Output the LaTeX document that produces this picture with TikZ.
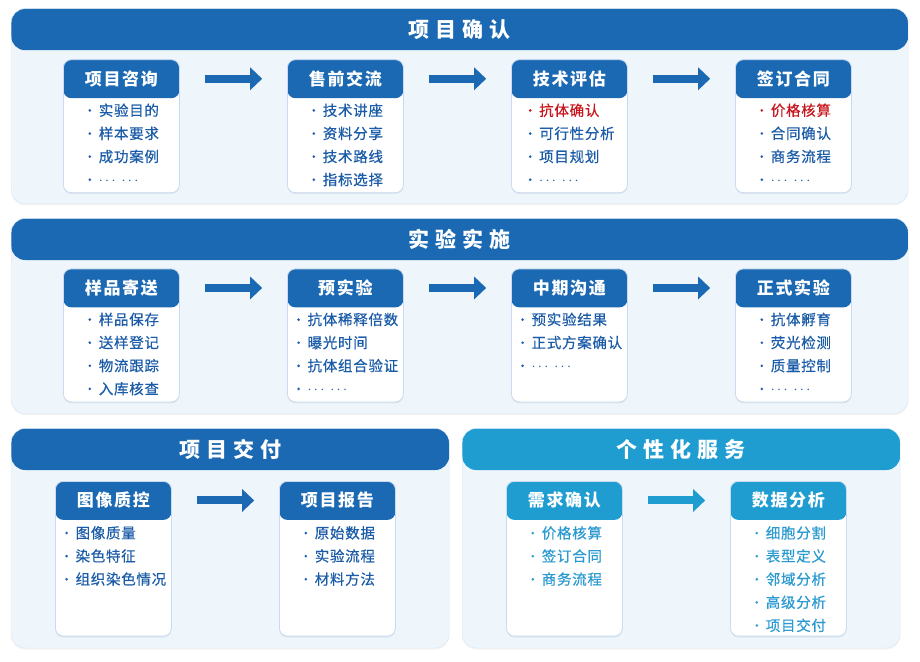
\documentclass[tikz,border=0pt]{standalone}
\usepackage{fontspec}
\setmainfont{Noto Sans CJK SC}
\newfontfamily\titlefont[LetterSpace=28]{Noto Sans CJK SC}
\newfontfamily\cardfont[LetterSpace=10]{Noto Sans CJK SC}
\newfontfamily\itemfont[LetterSpace=5,FakeBold=0.5]{Noto Sans CJK SC}
\usetikzlibrary{arrows.meta,shadows}

\definecolor{hdblue}{HTML}{1B69B2}
\definecolor{skyblue}{HTML}{1F9DD1}
\definecolor{panelbg}{HTML}{EEF6FC}
\definecolor{panelline}{HTML}{DCE8F4}
\definecolor{cardline}{HTML}{C9DBEF}
\definecolor{txtblue}{HTML}{1B5CA8}
\definecolor{txtred}{HTML}{C8161E}
\definecolor{txtsky}{HTML}{2A9AD0}

\newcommand{\bul}{\raisebox{0.8pt}{\fontsize{12}{12}\selectfont •}\hspace{3pt}}
\newcommand{\etcline}{\bul\raisebox{0.6pt}{$\cdots$\hspace{6pt}$\cdots$}}

\tikzset{
  panel/.style={fill=panelbg, draw=panelline, rounded corners=14pt,
    minimum width=897pt, minimum height=195pt, anchor=north west, inner sep=0pt,
    drop shadow={shadow xshift=0pt, shadow yshift=-1.5pt, opacity=0.10},
    path picture={\fill[#1] (path picture bounding box.north west)
      rectangle ([yshift=-41.5pt]path picture bounding box.north east);}},
  panel/.default=hdblue,
  paneltitle/.style={anchor=north, minimum height=41.5pt, inner sep=0pt, text=white,
    font=\titlefont\bfseries\fontsize{21}{21}\selectfont},
  card/.style={fill=white, draw=cardline, line width=0.8pt, rounded corners=8pt,
    minimum width=116pt, minimum height=133pt, anchor=north west, inner sep=0pt,
    drop shadow={shadow xshift=0pt, shadow yshift=-1.5pt, opacity=0.12},
    path picture={\fill[#1] (path picture bounding box.north west)
      rectangle ([yshift=-38.5pt]path picture bounding box.north east);}},
  card/.default=hdblue,
  cardtitle/.style={anchor=north, minimum width=116pt, minimum height=38.5pt, inner sep=0pt,
    text=white, font=\cardfont\bfseries\fontsize{17}{17}\selectfont},
  list/.style={anchor=north, align=left, inner sep=0pt, text=txtblue,
    font=\itemfont\fontsize{14.5}{23.1}\selectfont},
  flow/.style={draw=#1, line width=8pt, -{Triangle[length=12pt,width=22pt]},
    shorten <=25pt, shorten >=25pt},
  flow/.default=hdblue
}

\begin{document}
\begin{tikzpicture}[x=1pt,y=-1pt]
\useasboundingbox (0,0) rectangle (920,661);

% Panels
\node[panel] (confirm) at (11,8.5) {};
\node[paneltitle] (confirmhd) at (confirm.north) {项目确认};
\node[panel] (conduct) at (11,218.3) {};
\node[paneltitle] (conducthd) at (conduct.north) {实验实施};
\node[panel, minimum width=438pt, minimum height=219.5pt] (deliver) at (11,428.3) {};
\node[paneltitle] (deliverhd) at (deliver.north) {项目交付};
\node[panel=skyblue, minimum width=438pt, minimum height=219.5pt] (custom) at (462,428.3) {};
\node[paneltitle] (customhd) at (custom.north) {个性化服务};

% Row 1: project confirmation
\node[card] (consult) at (63,59.3) {};
\node[cardtitle] (consulthd) at (consult.north) {项目咨询};
\node[list] (consultlist) at ([yshift=-44pt]consult.north)
  {\bul 实验目的\\ \bul 样本要求\\ \bul 成功案例\\ \etcline};

\node[card] (presale) at (287,59.3) {};
\node[cardtitle] (presalehd) at (presale.north) {售前交流};
\node[list] (presalelist) at ([yshift=-44pt]presale.north)
  {\bul 技术讲座\\ \bul 资料分享\\ \bul 技术路线\\ \bul 指标选择};

\node[card] (evaluate) at (511,59.3) {};
\node[cardtitle] (evaluatehd) at (evaluate.north) {技术评估};
\node[list] (evaluatelist) at ([yshift=-44pt]evaluate.north)
  {{\color{txtred}\bul 抗体确认}\\ \bul 可行性分析\\ \bul 项目规划\\ \etcline};

\node[card] (contract) at (735,59.3) {};
\node[cardtitle] (contracthd) at (contract.north) {签订合同};
\node[list] (contractlist) at ([yshift=-44pt]contract.north)
  {{\color{txtred}\bul 价格核算}\\ \bul 合同确认\\ \bul 商务流程\\ \etcline};

\draw[flow] (consulthd) -- (presalehd);
\draw[flow] (presalehd) -- (evaluatehd);
\draw[flow] (evaluatehd) -- (contracthd);

% Row 2: experiment
\node[card] (shipping) at (63,268.5) {};
\node[cardtitle] (shippinghd) at (shipping.north) {样品寄送};
\node[list] (shippinglist) at ([yshift=-44pt]shipping.north)
  {\bul 样品保存\\ \bul 送样登记\\ \bul 物流跟踪\\ \bul 入库核查};

\node[card] (preexp) at (287,268.5) {};
\node[cardtitle] (preexphd) at (preexp.north) {预实验};
\node[list] (preexplist) at ([yshift=-44pt]preexp.north)
  {\bul 抗体稀释倍数\\ \bul 曝光时间\\ \bul 抗体组合验证\\ \etcline};

\node[card] (midcomm) at (511,268.5) {};
\node[cardtitle] (midcommhd) at (midcomm.north) {中期沟通};
\node[list] (midcommlist) at ([yshift=-44pt]midcomm.north)
  {\bul 预实验结果\\ \bul 正式方案确认\\ \etcline};

\node[card] (formal) at (735,268.5) {};
\node[cardtitle] (formalhd) at (formal.north) {正式实验};
\node[list] (formallist) at ([yshift=-44pt]formal.north)
  {\bul 抗体孵育\\ \bul 荧光检测\\ \bul 质量控制\\ \etcline};

\draw[flow] (shippinghd) -- (preexphd);
\draw[flow] (preexphd) -- (midcommhd);
\draw[flow] (midcommhd) -- (formalhd);

% Row 3: delivery
\node[card, minimum height=154.7pt] (imageqc) at (55,481) {};
\node[cardtitle] (imageqchd) at (imageqc.north) {图像质控};
\node[list] (imageqclist) at ([yshift=-45pt]imageqc.north)
  {\bul 图像质量\\ \bul 染色特征\\ \bul 组织染色情况};

\node[card, minimum height=154.7pt] (report) at (279,481) {};
\node[cardtitle] (reporthd) at (report.north) {项目报告};
\node[list] (reportlist) at ([yshift=-45pt]report.north)
  {\bul 原始数据\\ \bul 实验流程\\ \bul 材料方法};

\draw[flow] (imageqchd) -- (reporthd);

% Row 3: custom service
\node[card=skyblue, minimum height=154.7pt] (demand) at (506,481) {};
\node[cardtitle] (demandhd) at (demand.north) {需求确认};
\node[list, text=txtsky] (demandlist) at ([yshift=-45pt]demand.north)
  {\bul 价格核算\\ \bul 签订合同\\ \bul 商务流程};

\node[card=skyblue, minimum height=154.7pt] (analysis) at (730,481) {};
\node[cardtitle] (analysishd) at (analysis.north) {数据分析};
\node[list, text=txtsky] (analysislist) at ([yshift=-45pt]analysis.north)
  {\bul 细胞分割\\ \bul 表型定义\\ \bul 邻域分析\\ \bul 高级分析\\ \bul 项目交付};

\draw[flow=skyblue] (demandhd) -- (analysishd);
\end{tikzpicture}
\end{document}
